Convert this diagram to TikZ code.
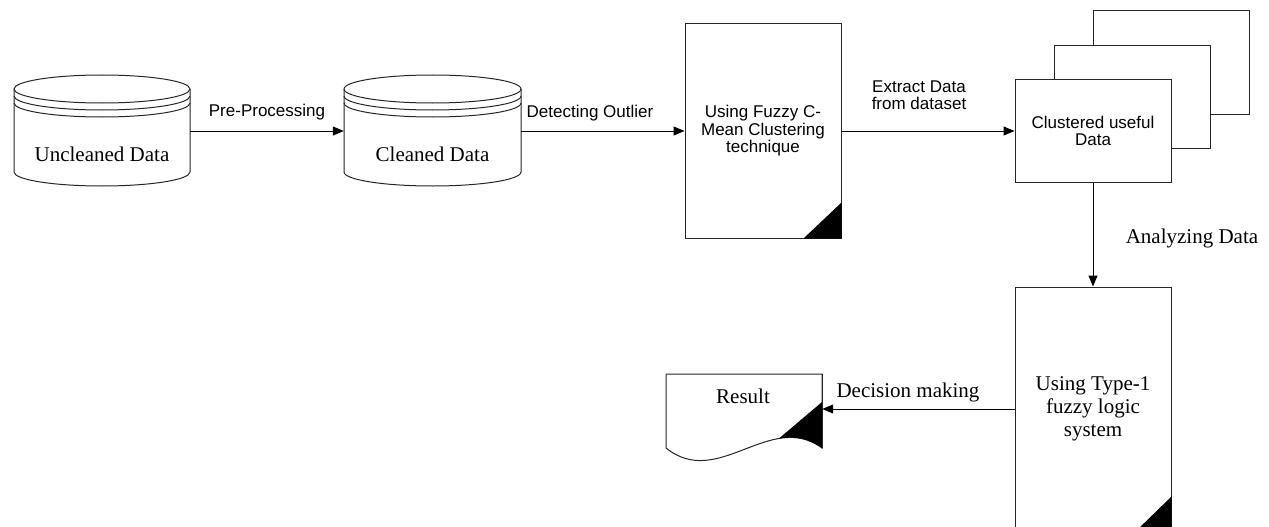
\documentclass[tikz,border=0pt]{standalone}
\usepackage{fontspec}
\setmainfont{Liberation Serif}
\setsansfont{Liberation Sans}
\usetikzlibrary{arrows.meta,calc}
\tikzset{
  outline/.style={draw=black!85, line width=1pt},
  labsans/.style={font=\sffamily\fontsize{17}{17.5}\selectfont, align=center, inner sep=0pt},
  labserif/.style={font=\fontsize{21}{23}\selectfont, align=center, inner sep=0pt},
  cbox/.style={outline, fill=white, minimum width=156pt, minimum height=103pt, inner sep=0pt},
  docbox/.style={outline, fill=white, minimum width=156pt, inner sep=0pt},
  anchorbox/.style={draw=none, inner sep=0pt},
  conn/.style={draw=black, line width=1pt, -{Triangle[length=11pt,width=9pt]}},
}
\begin{document}
\begin{tikzpicture}[x=1pt,y=-1pt]
\path[use as bounding box, fill=white] (0,0) rectangle (1269,527);
\clip (0,0) rectangle (1269,527);

% ---- cylinder 1
\filldraw[outline, fill=white] (14,89) -- (14,172)
  arc[start angle=180, end angle=0, x radius=88, y radius=14] -- (190,89)
  arc[start angle=0, end angle=-180, x radius=88, y radius=14] -- cycle;
\draw[outline] (14,89) arc[start angle=180, end angle=0, x radius=88, y radius=14];
\draw[outline] (14,96) arc[start angle=180, end angle=0, x radius=88, y radius=14];
\draw[outline] (14,103) arc[start angle=180, end angle=0, x radius=88, y radius=14];
\node[anchorbox, minimum width=176pt, minimum height=111pt] (u) at (102,131) {};
\node[labserif] (ut) at (102,154) {Uncleaned Data};

% ---- cylinder 2
\filldraw[outline, fill=white] (344,89) -- (344,172)
  arc[start angle=180, end angle=0, x radius=88.5, y radius=14] -- (521,89)
  arc[start angle=0, end angle=-180, x radius=88.5, y radius=14] -- cycle;
\draw[outline] (344,89) arc[start angle=180, end angle=0, x radius=88.5, y radius=14];
\draw[outline] (344,96) arc[start angle=180, end angle=0, x radius=88.5, y radius=14];
\draw[outline] (344,103) arc[start angle=180, end angle=0, x radius=88.5, y radius=14];
\node[anchorbox, minimum width=177pt, minimum height=111pt] (c) at (432.5,131) {};
\node[labserif] (ct) at (432.5,154) {Cleaned Data};

% ---- fuzzy c-mean document
\node[docbox, labsans, outline, minimum height=214pt] (f) at (763,131)
  {Using Fuzzy C-\\Mean Clustering\\technique};
\fill[black] ($(f.south east)+(-38,0)$) -- (f.south east) -- ($(f.south east)+(0,-36)$) -- cycle;

% ---- clustered data (stack)
\node[cbox] (c3) at (1171,62.5) {};
\node[cbox] (c2) at (1132,97) {};
\node[cbox, labsans, outline] (cl) at (1093,131) {Clustered useful\\Data};

% ---- type-1 document
\node[docbox, labserif, outline, minimum height=244pt] (t) at (1093,409)
  {Using Type-1\\fuzzy logic\\system};
\fill[black] ($(t.south east)+(-36,0)$) -- (t.south east) -- ($(t.south east)+(0,-35)$) -- cycle;

% ---- result document
\filldraw[outline, fill=white] (666,374) -- (822,374) -- (822,448)
  .. controls (770,410) and (718,490) .. (666,448) -- cycle;
\begin{scope}
  \clip (666,374) -- (822,374) -- (822,448)
    .. controls (770,410) and (718,490) .. (666,448) -- cycle;
  \fill[black] (822,402) -- (776,441) -- (776,480) -- (822,480) -- cycle;
\end{scope}
\draw[outline] (822,374) -- (822,448);
\node[anchorbox, minimum width=156pt, minimum height=88pt] (r) at (744,418) {};
\node[labserif] (rt) at (743,396) {Result};

% ---- connectors
\draw[conn] (u.east) -- (c.west);
\node[labsans] (l1) at (267,112) {Pre-Processing};
\draw[conn] (c.east) -- (f.west);
\node[labsans] (l2) at (590,113) {Detecting Outlier};
\draw[conn] (f.east) -- (cl.west);
\node[labsans] (l3) at (919,95) {Extract Data\\from dataset};
\draw[conn] (cl.south) -- (t.north);
\node[labserif] (l4) at (1192,238) {Analyzing Data};
\draw[conn] (t.west) -- (t.west -| r.east);
\node[labserif] (l5) at (908,392) {Decision making};
\end{tikzpicture}
\end{document}
